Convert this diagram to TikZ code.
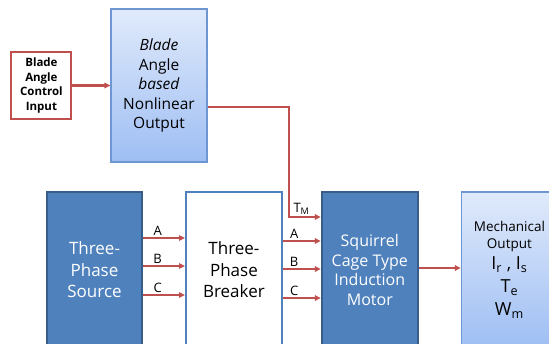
\documentclass[tikz,border=0pt]{standalone}
\usepackage{fontspec}
\setmainfont{Open Sans}
\usetikzlibrary{positioning,arrows.meta}
\definecolor{darkblue}{RGB}{79,129,189}
\definecolor{darkedge}{RGB}{56,93,138}
\definecolor{arrred}{RGB}{192,80,77}
\definecolor{gradtop}{RGB}{224,234,251}
\definecolor{gradbot}{RGB}{158,190,243}
\definecolor{gradedge}{RGB}{110,150,210}

\begin{document}
\begin{tikzpicture}[x=1pt,y=-1pt,
  >={Triangle[length=6pt,width=5.5pt]}, node distance=40pt,
  dark/.style={draw=darkedge,line width=2pt,fill=darkblue,text=white,align=center,minimum width=95pt,minimum height=156pt},
  light/.style={draw=gradedge,line width=1.2pt,top color=gradtop,bottom color=gradbot,align=center,minimum width=96pt},
  arr/.style={->,draw=arrred,line width=2.2pt},
  lbl/.style={font=\fontsize{13}{15}\selectfont,inner sep=1.5pt},
  big/.style={font=\fontsize{18}{22}\selectfont}]
\useasboundingbox (0,0) rectangle (549,343);
\clip (0,0) rectangle (549,343);
% power path
\node[dark,font=\fontsize{17}{21.5}\selectfont] (src) at (94.5,270) {Three-\\Phase\\Source};
\node[draw=darkblue,line width=1.8pt,fill=white,align=center,minimum width=96pt,minimum height=156pt,
  font=\fontsize{17}{21.5}\selectfont,right=42pt of src] (brk) {Three-\\Phase\\Breaker};
\node[dark,minimum width=96pt,font=\fontsize{16}{19.5}\selectfont,right=38pt of brk] (motor) {Squirrel\\Cage Type\\Induction\\Motor};
\node[light,minimum height=156pt,right=42pt of motor,font=\fontsize{13.5}{17}\selectfont] (mech)
  {Mechanical\\Output\\[4pt]{\fontsize{18}{22}\selectfont{\rmfamily I}\textsubscript{r} , {\rmfamily I}\textsubscript{s}}\\[6pt]
   {\fontsize{18}{22}\selectfont T\textsubscript{e}}\\[6pt]{\fontsize{18}{22}\selectfont W\textsubscript{m}}};
% blade angle path
\node[light,minimum height=153pt,font=\fontsize{15.5}{19.5}\selectfont] (nonlin) at (159,85.5)
  {\textit{Blade}\\Angle\\\textit{based}\\Nonlinear\\Output};
\node[draw=arrred,line width=2pt,fill=white,align=center,minimum width=60pt,minimum height=67pt,
  font=\bfseries\fontsize{11.5}{14.5}\selectfont,inner sep=1pt,left=38pt of nonlin] (ctrl) {Blade\\Angle\\Control\\Input};
% connectors
\draw[arr] (ctrl) -- (nonlin);
\draw[arr] ([yshift=-21.5pt]nonlin.east) -- ++(81,0) |- node[lbl,above,pos=0.7]{T\textsubscript{M}} ([yshift=53pt]motor.west);
\foreach \ph/\dy in {A/32,B/4,C/-25}
  \draw[arr] ([yshift=\dy pt]src.east) -- node[lbl,above,pos=0.35]{\ph} ([yshift=\dy pt]brk.west);
\foreach \ph/\dy in {A/29,B/1,C/-28}
  \draw[arr] ([yshift=\dy pt]brk.east) -- node[lbl,above,pos=0.3]{\ph} ([yshift=\dy pt]motor.west);
\draw[arr] ([yshift=2pt]motor.east) -- ([yshift=2pt]mech.west);
\end{tikzpicture}
\end{document}
